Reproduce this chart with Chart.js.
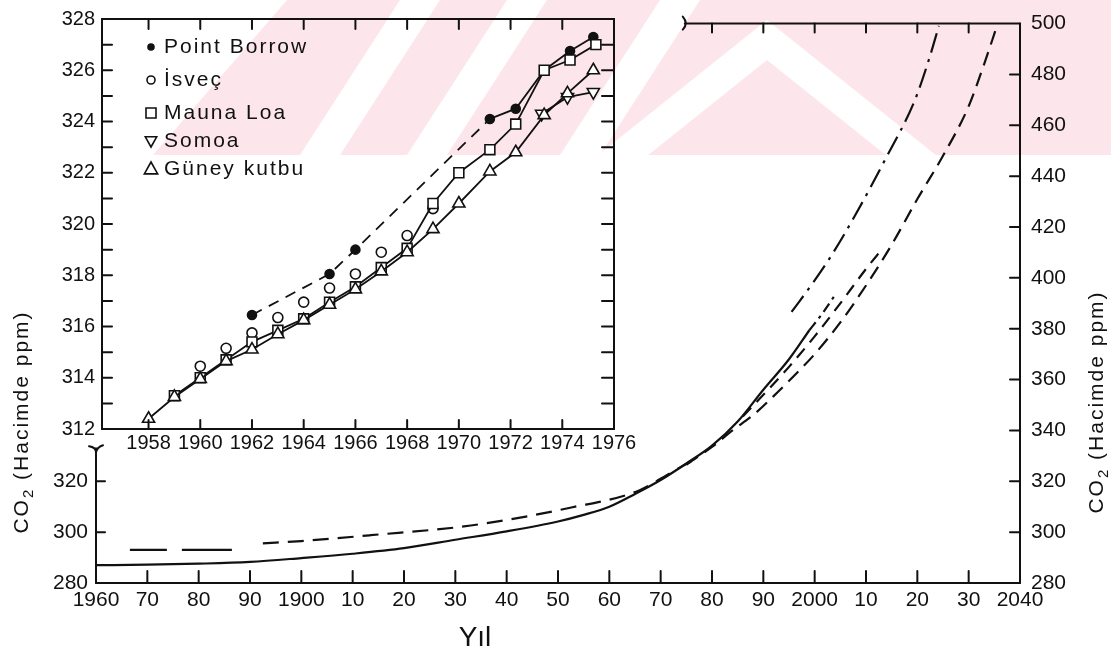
<!DOCTYPE html>
<html>
<head>
<meta charset="utf-8">
<script src="https://cdn.jsdelivr.net/npm/chart.js@4.4.1/dist/chart.umd.min.js"></script>
<style>
  body { margin: 0; background: #fff; }
  #wrap { position: relative; width: 1111px; height: 653px; }
  canvas { position: absolute; left: 0; top: 0; }
</style>
</head>
<body>
<div id="wrap">
  <canvas id="mainChart" width="1111" height="653"></canvas>
  <canvas id="insetChart" width="1111" height="653"></canvas>
</div>
<script>
// ---- main chart data (1860-2040) ----
const mainXTicks  = [1860, 1870, 1880, 1890, 1900, 1910, 1920, 1930, 1940, 1950, 1960, 1970, 1980, 1990, 2000, 2010, 2020, 2030, 2040];
const mainXLabels = ['1960', '70', '80', '90', '1900', '10', '20', '30', '40', '50', '60', '70', '80', '90', '2000', '10', '20', '30', '2040'];
const rightTicks  = [280, 300, 320, 340, 360, 380, 400, 420, 440, 460, 480, 500];
const leftTicks   = [280, 300, 320];
const topTicks    = [1980, 1990, 2000, 2010, 2020, 2030];
const leftAxisBreak = 333;   // ppm where the left axis stops
const topAxisBreak  = 1974.7; // year where the top axis starts

const obsYears = [1860, 1870, 1880, 1890, 1900, 1910, 1920, 1930, 1940, 1950, 1955, 1960, 1965, 1970, 1975, 1980, 1985, 1990, 1995, 1999];
const obsCO2   = [287.0, 287.2, 287.6, 288.3, 289.8, 291.5, 293.7, 297.0, 300.3, 304.2, 306.8, 310.0, 315.0, 320.5, 327.0, 334.0, 343.5, 356.0, 368.0, 379.5];
const obsExtYears = [1999, 2001.5, 2004];
const obsExtCO2   = [379.5, 386.0, 393.3];
const earlyYears = [1866.6, 1886.5];
const earlyCO2   = [293.0, 293.0];
const histDashYears = [1892.5, 1900, 1913.5, 1933, 1952.6, 1965.7, 1972, 1976];
const histDashCO2   = [295.6, 296.5, 298.8, 302.6, 309.7, 316.3, 323.4, 328.0];
const projLowYears = [1975, 1980, 1984, 1988, 1992, 1996, 2000, 2005, 2010, 2015, 2020, 2025, 2030, 2033, 2035.5];
const projLowCO2   = [326.5, 333.5, 340.0, 346.0, 353.5, 361.5, 370.0, 382.5, 397.0, 413.0, 431.0, 448.0, 467.5, 484.0, 499.0];
const projMidYears = [1986, 1990, 1995, 2000, 2005, 2010, 2013];
const projMidCO2   = [345.5, 354.0, 365.0, 377.0, 390.0, 403.5, 411.0];
const projHighYears = [1995.5, 2000, 2003.3, 2008, 2013.7, 2019.5, 2022.2, 2024.2];
const projHighCO2   = [386.6, 399.0, 408.9, 425.0, 446.4, 469.8, 485.5, 499.1];

// ---- inset data (1958-1976) ----
const insetXTicks = [1958, 1960, 1962, 1964, 1966, 1968, 1970, 1972, 1974, 1976];
const insetYTicks = [312, 313, 314, 315, 316, 317, 318, 319, 320, 321, 322, 323, 324, 325, 326, 327, 328];

const borrowYears = [1962, 1965, 1966, 1971.2, 1972.2, 1973.3, 1974.3, 1975.2];
const borrowCO2   = [316.45, 318.05, 319.0, 324.1, 324.5, 326.0, 326.75, 327.3];
const isvecYears = [1960, 1961, 1962, 1963, 1964, 1965, 1966, 1967, 1968, 1969];
const isvecCO2   = [314.45, 315.15, 315.75, 316.35, 316.95, 317.5, 318.05, 318.9, 319.55, 320.6];
const maunaYears = [1959, 1960, 1961, 1962, 1963, 1964, 1965, 1966, 1967, 1968, 1969, 1970, 1971.2, 1972.2, 1973.3, 1974.3, 1975.3];
const maunaCO2   = [313.3, 314.0, 314.7, 315.4, 315.85, 316.3, 316.95, 317.55, 318.3, 319.05, 320.8, 322.0, 322.9, 323.9, 326.0, 326.4, 327.0];
const somoaYears = [1973.2, 1974.2, 1975.2];
const somoaCO2   = [324.3, 324.95, 325.15];
const guneyYears = [1958, 1959, 1960, 1961, 1962, 1963, 1964, 1965, 1966, 1967, 1968, 1969, 1970, 1971.2, 1972.2, 1973.3, 1974.2, 1975.2];
const guneyCO2   = [312.4, 313.25, 313.95, 314.65, 315.1, 315.7, 316.25, 316.85, 317.45, 318.15, 318.9, 319.8, 320.8, 322.05, 322.8, 324.25, 325.1, 326.0];

const INK = '#111';
const FONT = "'Liberation Sans', Arial, sans-serif";
const pts = (xs, ys) => xs.map((x, i) => ({ x, y: ys[i] }));

function seg(ctx, x1, y1, x2, y2) {
  ctx.beginPath(); ctx.moveTo(x1, y1); ctx.lineTo(x2, y2); ctx.stroke();
}
function poly(ctx, p) {
  ctx.beginPath(); ctx.moveTo(p[0][0], p[0][1]);
  p.slice(1).forEach(q => ctx.lineTo(q[0], q[1]));
  ctx.closePath(); ctx.fill();
}

// faint watermark band at the top of the scan
function drawWatermark(ctx) {
  ctx.save();
  ctx.beginPath(); ctx.rect(0, 0, 1111, 155); ctx.clip();
  ctx.fillStyle = '#fce6ec';
  poly(ctx, [[287, 0], [1111, 0], [1111, 155], [153, 155]]);
  ctx.fillStyle = '#fff';
  [[300, 400], [407, 507], [560, 660]].forEach(([b, t]) => poly(ctx, [[t, 0], [t + 40, 0], [b + 40, 155], [b, 155]]));
  const ax = 767, ay = 20, th = 40, k = 0.8;
  poly(ctx, [[ax, ay], [ax + (155 - ay) / k, 155], [ax + (155 - ay - th) / k, 155], [ax, ay + th],
             [ax - (155 - ay - th) / k, 155], [ax - (155 - ay) / k, 155]]);
  ctx.restore();
}

function drawCO2Title(ctx, cx, cy) {
  ctx.save();
  ctx.translate(cx, cy); ctx.rotate(-Math.PI / 2);
  ctx.fillStyle = INK; ctx.textBaseline = 'middle'; ctx.textAlign = 'left';
  ctx.letterSpacing = '2px';
  const big = '21px ' + FONT, small = '15px ' + FONT, rest = ' (Hacimde ppm)';
  ctx.font = big; const w1 = ctx.measureText('CO').width, w3 = ctx.measureText(rest).width;
  ctx.font = small; const w2 = ctx.measureText('2').width;
  let px = -(w1 + w2 + w3) / 2;
  ctx.font = big; ctx.fillText('CO', px, 0); px += w1;
  ctx.font = small; ctx.fillText('2', px, 7); px += w2;
  ctx.font = big; ctx.fillText(rest, px, 0);
  ctx.restore();
}

const mainFrame = {
  id: 'mainFrame',
  beforeDraw(chart) { drawWatermark(chart.ctx); },
  afterDraw(chart) {
    const { ctx, chartArea: a, scales: { x, y, yL } } = chart;
    ctx.save();
    ctx.strokeStyle = INK; ctx.lineWidth = 2; ctx.lineCap = 'round';
    seg(ctx, a.left, a.bottom, a.right, a.bottom);
    seg(ctx, a.right, a.top, a.right, a.bottom);
    const yb = yL.getPixelForValue(leftAxisBreak);
    seg(ctx, a.left, a.bottom, a.left, yb);
    ctx.beginPath(); ctx.moveTo(a.left - 7, yb - 2); ctx.quadraticCurveTo(a.left, yb - 1, a.left, yb + 4);
    ctx.quadraticCurveTo(a.left + 1, yb - 1, a.left + 7, yb - 3); ctx.stroke();
    const xb = x.getPixelForValue(topAxisBreak);
    seg(ctx, xb, a.top, a.right, a.top);
    ctx.beginPath(); ctx.moveTo(xb - 2, a.top - 7); ctx.quadraticCurveTo(xb + 4, a.top, xb - 2, a.top + 6); ctx.stroke();
    mainXTicks.slice(1, -1).forEach(v => { const p = x.getPixelForValue(v); seg(ctx, p, a.bottom, p, a.bottom - 12); });
    rightTicks.slice(1, -1).forEach(v => { const p = y.getPixelForValue(v); seg(ctx, a.right, p, a.right - 10, p); });
    leftTicks.slice(1).forEach(v => { const p = yL.getPixelForValue(v); seg(ctx, a.left, p, a.left + 9, p); });
    topTicks.forEach(v => { const p = x.getPixelForValue(v); seg(ctx, p, a.top, p, a.top + 9); });
    drawCO2Title(ctx, 22, 422);
    drawCO2Title(ctx, 1097, 402);
    ctx.fillStyle = INK; ctx.font = '28px ' + FONT; ctx.textAlign = 'center'; ctx.textBaseline = 'middle';
    ctx.fillText('Yıl', 475, 638);
    ctx.restore();
  }
};

const lineDs = (label, xs, ys, dash) => ({
  label, data: pts(xs, ys), showLine: true, borderColor: INK, borderWidth: 2.2,
  borderDash: dash, pointRadius: 0, tension: 0.4, cubicInterpolationMode: 'monotone'
});

new Chart(document.getElementById('mainChart'), {
  type: 'scatter',
  data: {
    datasets: [
      lineDs('Gözlenen', obsYears, obsCO2, []),
      lineDs('Gözlenen (devam)', obsExtYears, obsExtCO2, [10, 5, 3, 5]),
      lineDs('Erken ölçüm', earlyYears, earlyCO2, [37, 15, 50, 300]),
      lineDs('Tahmin (geçmiş)', histDashYears, histDashCO2, [16, 9]),
      lineDs('Tahmin düşük', projLowYears, projLowCO2, [14, 8]),
      lineDs('Tahmin orta', projMidYears, projMidCO2, [12, 8]),
      lineDs('Tahmin yüksek', projHighYears, projHighCO2, [20, 7, 3, 7])
    ]
  },
  options: {
    responsive: false, animation: false, events: [],
    layout: { padding: { left: 0, right: 0, top: 20, bottom: 0 } },
    plugins: { legend: { display: false }, tooltip: { enabled: false } },
    scales: {
      x: {
        type: 'linear', position: 'bottom', min: 1860, max: 2040,
        afterFit: s => { s.height = 70; },
        afterBuildTicks: s => { s.ticks = mainXTicks.map(v => ({ value: v })); },
        ticks: { callback: (v, i) => mainXLabels[i], autoSkip: false, maxRotation: 0, padding: 5,
                 color: INK, font: { family: FONT, size: 21 } },
        grid: { display: false, drawTicks: false }, border: { display: false }
      },
      y: {
        type: 'linear', position: 'right', min: 280, max: 500,
        afterFit: s => { s.width = 91; },
        afterBuildTicks: s => { s.ticks = rightTicks.map(v => ({ value: v })); },
        ticks: { autoSkip: false, padding: 11, color: INK, font: { family: FONT, size: 21 } },
        grid: { display: false, drawTicks: false }, border: { display: false }
      },
      yL: {
        type: 'linear', position: 'left', min: 280, max: 500,
        afterFit: s => { s.width = 96; },
        afterBuildTicks: s => { s.ticks = leftTicks.map(v => ({ value: v })); },
        ticks: { autoSkip: false, padding: 8, color: INK, font: { family: FONT, size: 21 } },
        grid: { display: false, drawTicks: false }, border: { display: false }
      }
    }
  },
  plugins: [mainFrame]
});

// ---- inset ----
function drawMarker(ctx, style, x, y, r, filled, rot) {
  ctx.save();
  ctx.fillStyle = filled ? INK : '#fff';
  ctx.beginPath();
  if (style === 'circle') ctx.arc(x, y, r, 0, Math.PI * 2);
  else if (style === 'rect') ctx.rect(x - r, y - r, 2 * r, 2 * r);
  else {
    const s = rot ? -1 : 1;
    ctx.moveTo(x, y - s * r); ctx.lineTo(x + r * 0.95, y + s * r * 0.7); ctx.lineTo(x - r * 0.95, y + s * r * 0.7); ctx.closePath();
  }
  ctx.fill(); ctx.stroke();
  ctx.restore();
}

const legendItems = [
  { text: 'Point Borrow', style: 'circle', r: 3, filled: true, y: 47 },
  { text: 'İsveç', style: 'circle', r: 4, filled: false, y: 80 },
  { text: 'Mauna Loa', style: 'rect', r: 5, filled: false, y: 113 },
  { text: 'Somoa', style: 'tri', r: 6, filled: false, rot: true, y: 141 },
  { text: 'Güney kutbu', style: 'tri', r: 7, filled: false, y: 169 }
];

const insetFrame = {
  id: 'insetFrame',
  afterDraw(chart) {
    const { ctx, chartArea: a, scales: { x, y } } = chart;
    ctx.save();
    ctx.strokeStyle = INK; ctx.lineWidth = 2; ctx.lineCap = 'round';
    ctx.strokeRect(a.left, a.top, a.right - a.left, a.bottom - a.top);
    insetYTicks.slice(1, -1).forEach(v => {
      const p = y.getPixelForValue(v);
      seg(ctx, a.left, p, a.left + 10, p);
      seg(ctx, a.right, p, a.right - 12, p);
    });
    insetXTicks.slice(0, -1).forEach(v => {
      const p = x.getPixelForValue(v);
      seg(ctx, p, a.bottom, p, a.bottom - 9);
      seg(ctx, p, a.top, p, a.top + 10);
    });
    ctx.lineWidth = 1.6;
    ctx.font = '21px ' + FONT; ctx.letterSpacing = '2px';
    ctx.textBaseline = 'middle'; ctx.textAlign = 'left';
    legendItems.forEach(it => {
      drawMarker(ctx, it.style, 151, it.y, it.r, it.filled, it.rot);
      ctx.fillStyle = INK;
      ctx.fillText(it.text, 164, it.y);
    });
    ctx.restore();
  }
};

const markDs = (label, xs, ys, style, r, filled, extra) => Object.assign({
  label, data: pts(xs, ys), showLine: true, borderColor: INK, borderWidth: 1.8,
  pointStyle: style, pointRadius: r, pointBorderWidth: 1.6, pointBorderColor: INK,
  pointBackgroundColor: filled ? INK : '#fff', tension: 0
}, extra || {});

new Chart(document.getElementById('insetChart'), {
  type: 'scatter',
  data: {
    datasets: [
      markDs('Güney kutbu', guneyYears, guneyCO2, 'triangle', 7, false),
      markDs('Mauna Loa', maunaYears, maunaCO2, 'rect', 7, false),
      markDs('Somoa', somoaYears, somoaCO2, 'triangle', 7, false, { pointRotation: 180 }),
      markDs('İsveç', isvecYears, isvecCO2, 'circle', 5, false, { showLine: false }),
      markDs('Point Borrow', borrowYears, borrowCO2, 'circle', 4.5, true, {
        segment: { borderDash: c => c.p0.parsed.x < 1970 ? [11, 8] : [] }
      })
    ]
  },
  options: {
    responsive: false, animation: false, events: [],
    layout: { padding: { left: 0, right: 497, top: 17, bottom: 0 } },
    plugins: { legend: { display: false }, tooltip: { enabled: false } },
    scales: {
      x: {
        type: 'linear', position: 'bottom', min: 1956.2, max: 1976,
        afterFit: s => { s.height = 224; },
        afterBuildTicks: s => { s.ticks = insetXTicks.map(v => ({ value: v })); },
        ticks: { callback: v => String(v), autoSkip: false, maxRotation: 0, padding: 2,
                 color: INK, font: { family: FONT, size: 20 } },
        grid: { display: false, drawTicks: false }, border: { display: false }
      },
      y: {
        type: 'linear', position: 'left', min: 312, max: 328,
        afterFit: s => { s.width = 102; },
        afterBuildTicks: s => { s.ticks = insetYTicks.map(v => ({ value: v })); },
        ticks: { callback: v => (v % 2 === 0 ? String(v) : ''), autoSkip: false, padding: 7,
                 color: INK, font: { family: FONT, size: 20 } },
        grid: { display: false, drawTicks: false }, border: { display: false }
      }
    }
  },
  plugins: [insetFrame]
});
</script>
</body>
</html>
